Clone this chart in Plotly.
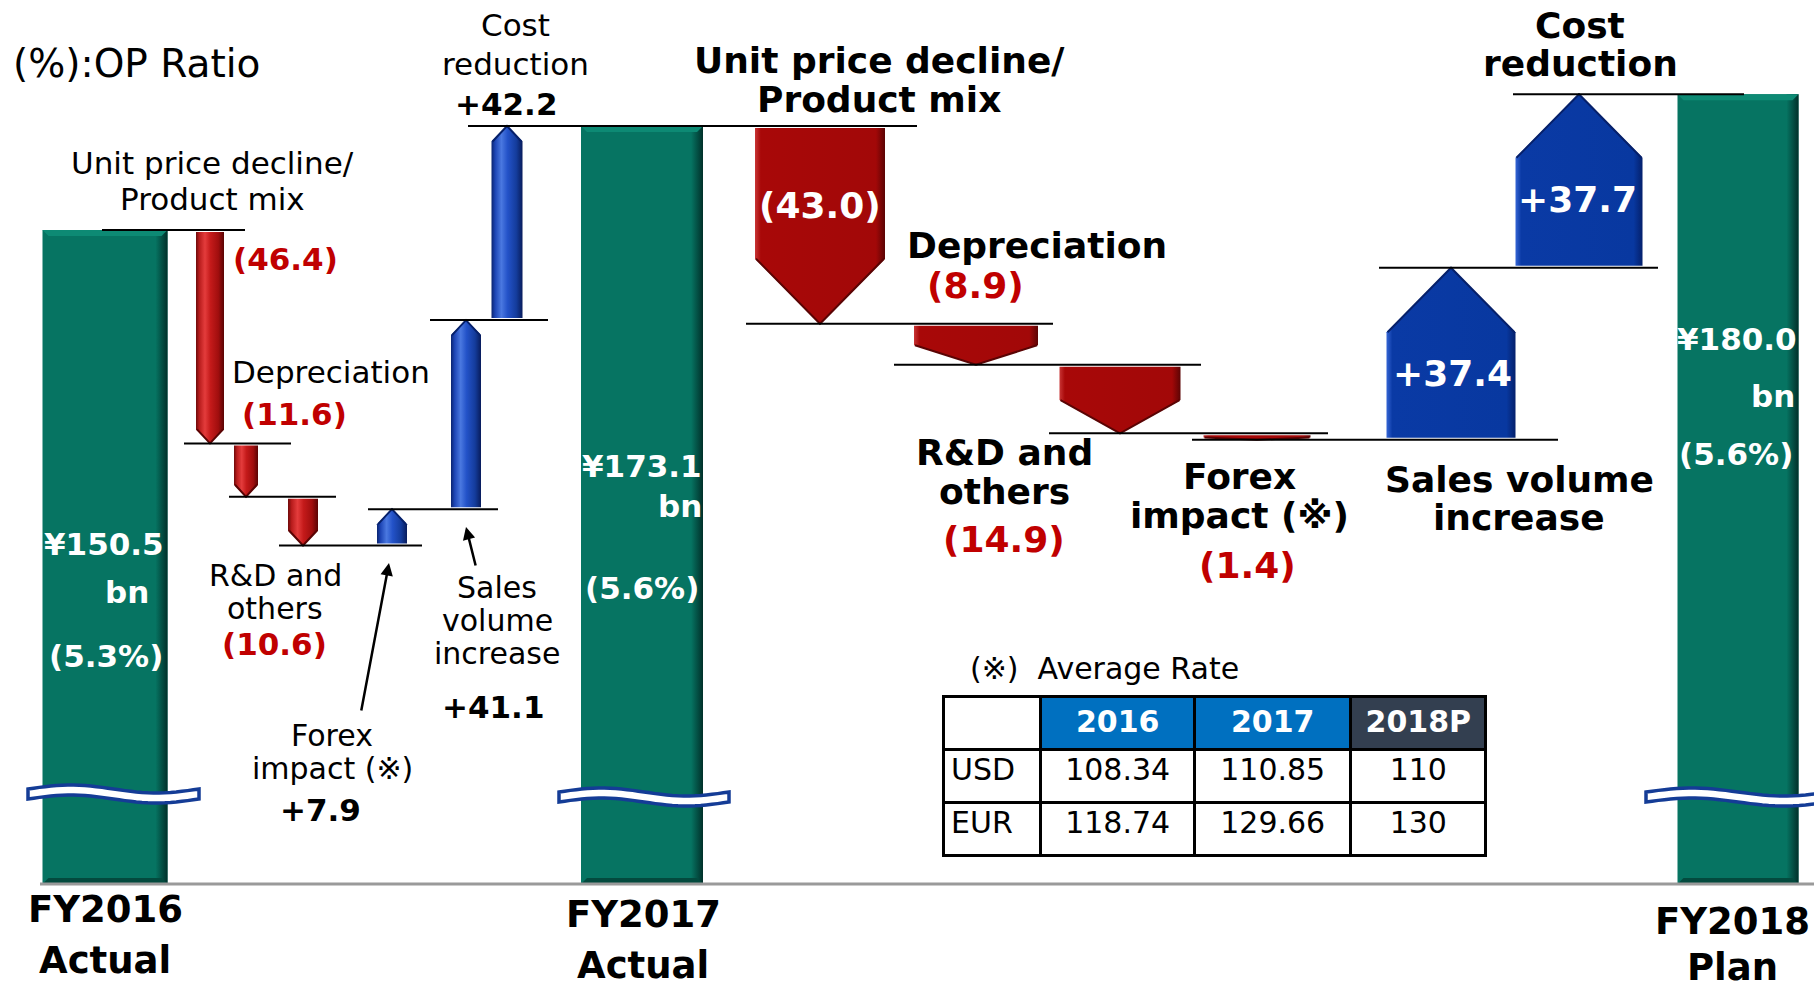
import math
import plotly.graph_objects as go

# ---------------- data ----------------
periods = ["FY2016<br>Actual", "FY2017<br>Actual", "FY2018<br>Plan"]
period_totals = [150.5, 173.1, 180.0]
op_ratios = [5.3, 5.6, 5.6]

steps_fy17 = ["Unit price decline/<br>Product mix", "Depreciation", "R&D and<br>others",
              "Forex<br>impact (※)", "Sales<br>volume<br>increase", "Cost<br>reduction"]
deltas_fy17 = [-46.4, -11.6, -10.6, 7.9, 41.1, 42.2]

steps_fy18 = ["Unit price decline/<br>Product mix", "Depreciation", "R&D and<br>others",
              "Forex<br>impact (※)", "Sales volume<br>increase", "Cost<br>reduction"]
deltas_fy18 = [-43.0, -8.9, -14.9, -1.4, 37.4, 37.7]

rate_title = "(※)  Average Rate"
rate_years = ["2016", "2017", "2018P"]
rate_currencies = ["USD", "EUR"]
rate_usd = ["108.34", "110.85", "110"]
rate_eur = ["118.74", "129.66", "130"]

# ---------------- layout / style constants ----------------
W, H = 1814, 988
PX = 4.6                      # pixels per ¥bn on the (broken) value axis
REF_VAL, REF_PX = 173.1, 126
Y_TOP = REF_VAL + REF_PX / PX
Y_BOT = REF_VAL - (H - REF_PX) / PX
BASE = REF_VAL - (884 - REF_PX) / PX   # value at which the broken bars end
FONT = "DejaVu Sans"

GREEN = "#067462"
RED_TXT = "#C00000"

TOTAL_X = [105, 642, 1738]
TOTAL_W = [125, 122, 121]
STEP_X = [[210, 246, 303, 392, 466, 507], [820, 976, 1120, 1257, 1451, 1579]]
STEP_W = [[28, 24, 30, 30, 30, 31], [130, 124, 121, 107, 129, 127]]
LINE_SPANS = [[(102, 245), (184, 291), (229, 336), (279, 422), (368, 498), (430, 548), (468, 917)],
              [(746, 1053), (894, 1201), (1049, 1328), (1192, 1558), (1379, 1658), (1513, 1744)]]
LABEL_POS = [
    [(212, [163, 199]), (331, [372]), (275, [575, 608]), (332, [735, 768]), (497, [587, 620, 653]), (515, [25, 64])],
    [(879, [61, 100]), (1037, [245]), (1004, [452, 491]), (1239, [477, 515]), (1519, [480, 517]), (1580, [25, 64])],
]
LABEL_SIZE = [[31, 31, 30, 30, 30, 31], [36, 36, 36, 36, 36, 36]]
VALUE_POS = [
    [(285, 259), (294, 414), (274, 644), (320, 810), (493, 707), (506, 104)],
    [(820, 205), (975, 285), (1004, 539), (1247, 565), (1452, 374), (1577, 199)],
]
VALUE_INSIDE = [[False] * 6, [True, False, False, False, True, True]]
TOTAL_TXT_POS = [[(104, 544), (127, 592), (106, 656)],
                 [(642, 466), (680, 506), (642, 588)],
                 [(1737, 339), (1773, 396), (1736, 454)]]
PERIOD_POS = [(105, [909, 960]), (643, [914, 965]), (1732, [921, 967])]
BREAKS = [(28, 199, 794), (559, 729, 797), (1646, 1830, 797)]

NARROW_RED = [[0, "#6e0a0a"], [0.12, "#b81c1c"], [0.32, "#e43c3c"], [0.52, "#c41a1a"], [0.8, "#a00e0e"], [1, "#5a0404"]]
NARROW_BLUE = [[0, "#0a2470"], [0.12, "#1d45b5"], [0.32, "#4a78e0"], [0.52, "#2352c8"], [0.8, "#143c9c"], [1, "#081c5c"]]
WIDE_RED = [[0, "#c83535"], [0.045, "#a80808"], [0.93, "#a20808"], [1, "#5c0404"]]
WIDE_BLUE = [[0, "#3565d5"], [0.045, "#0a3aa5"], [0.93, "#0838a0"], [1, "#04206c"]]


def py(v):
    return 1 - v / H


def cumulative(start, deltas):
    lv = [start]
    for d in deltas:
        lv.append(round(lv[-1] + d, 1))
    return lv


def fmt_delta(d):
    return f"({abs(d):.1f})" if d < 0 else f"+{d:.1f}"


lev1 = cumulative(period_totals[0], deltas_fy17)
lev2 = cumulative(period_totals[1], deltas_fy18)

fig = go.Figure()

# ---------------- total bars ----------------
fig.add_trace(go.Bar(x=TOTAL_X, y=[t - BASE for t in period_totals], base=BASE, width=TOTAL_W,
                     marker=dict(color=GREEN, line=dict(width=0)), hoverinfo="skip"))
for cx, w, t in zip(TOTAL_X, TOTAL_W, period_totals):
    xl, xr = cx - w / 2, cx + w / 2
    fig.add_trace(go.Scatter(x=[xr - 12, xr, xr, xr - 12, xr - 12], y=[BASE, BASE, t, t, BASE],
                             fill="toself", mode="lines", line=dict(width=0, color=GREEN),
                             fillgradient=dict(type="horizontal", colorscale=[[0, GREEN], [1, "#01302a"]]),
                             hoverinfo="skip"))
    b = 6 / PX
    fig.add_trace(go.Scatter(x=[xl, xr, xr - 6, xl + 6, xl], y=[t, t, t - b, t - b, t],
                             fill="toself", mode="lines", line=dict(width=0, color="#0d8a74"),
                             fillcolor="#0d8a74", hoverinfo="skip"))
    fig.add_trace(go.Scatter(x=[xl, xr, xr - 6, xl + 6, xl], y=[BASE, BASE, BASE + b, BASE + b, BASE],
                             fill="toself", mode="lines", line=dict(width=0, color="#034a3e"),
                             fillcolor="#034a3e", hoverinfo="skip"))


# ---------------- arrows ----------------
def add_arrow(xc, w, y0, y1, scale, edge):
    d = 1 if y1 > y0 else -1
    y0 = y0 + d * 2 / PX
    length_px = abs(y1 - y0) * PX
    tip = min(w / 2, 0.5 * length_px) / PX
    yb = y1 - d * tip
    xl, xr = xc - w / 2, xc + w / 2
    fig.add_trace(go.Scatter(x=[xl, xr, xr, xc, xl, xl], y=[y0, y0, yb, y1, yb, y0],
                             fill="toself", mode="lines", line=dict(width=0, color=edge),
                             fillgradient=dict(type="horizontal", colorscale=scale),
                             hoverinfo="skip"))
    fig.add_trace(go.Scatter(x=[xl + 1, xc, xr - 1], y=[yb, y1, yb], mode="lines",
                             line=dict(width=2, color=edge), hoverinfo="skip"))


for side, (levels, deltas) in enumerate([(lev1, deltas_fy17), (lev2, deltas_fy18)]):
    for i, dlt in enumerate(deltas):
        if side == 0:
            scale = NARROW_RED if dlt < 0 else NARROW_BLUE
        else:
            scale = WIDE_RED if dlt < 0 else WIDE_BLUE
        edge = "#5a0404" if dlt < 0 else "#06206a"
        add_arrow(STEP_X[side][i], STEP_W[side][i], levels[i], levels[i + 1], scale, edge)

# ---------------- connector lines ----------------
shapes = []
for (x0, x1), lv in zip(LINE_SPANS[0], lev1):
    shapes.append(dict(type="line", xref="x", yref="y", x0=x0, x1=x1, y0=lv, y1=lv,
                       line=dict(color="black", width=2)))
for (x0, x1), lv in zip(LINE_SPANS[1], lev2[1:]):
    shapes.append(dict(type="line", xref="x", yref="y", x0=x0, x1=x1, y0=lv, y1=lv,
                       line=dict(color="black", width=2)))

shapes.append(dict(type="line", xref="x", yref="y", x0=40, x1=W, y0=BASE, y1=BASE,
                   line=dict(color="#9a9a9a", width=3)))


def wave_path(x0, x1, yc_px, amp=4.0, half=5.0, n=30):
    top, bot = [], []
    for i in range(n + 1):
        t = i / n
        x = x0 + (x1 - x0) * t
        yc = yc_px - amp * math.sin(2 * math.pi * t)
        top.append((x, py(yc - half)))
        bot.append((x, py(yc + half)))
    pts = top + bot[::-1]
    return "M " + " L ".join(f"{x:.1f},{y:.5f}" for x, y in pts) + " Z"


for x0, x1, yc in BREAKS:
    shapes.append(dict(type="path", xref="x", yref="paper", path=wave_path(x0, x1, yc),
                       fillcolor="white", line=dict(color="#143c96", width=3.5)))


# ---------------- text ----------------
def label(x, ypx, text, size, color="black", bold=False, xanchor="center"):
    fig.add_annotation(x=x, y=py(ypx), xref="x", yref="paper",
                       text=f"<b>{text}</b>" if bold else text, showarrow=False,
                       font=dict(family=FONT, size=size, color=color),
                       xanchor=xanchor, yanchor="middle", borderpad=0)


label(12, 64, "(%):OP Ratio", 39, xanchor="left")

for side, (names, deltas) in enumerate([(steps_fy17, deltas_fy17), (steps_fy18, deltas_fy18)]):
    for i, (nm, dlt) in enumerate(zip(names, deltas)):
        cx, ys = LABEL_POS[side][i]
        for line_txt, ypx in zip(nm.split("<br>"), ys):
            label(cx, ypx, line_txt, LABEL_SIZE[side][i], bold=(side == 1))
        vx, vy = VALUE_POS[side][i]
        if VALUE_INSIDE[side][i]:
            col = "white"
        else:
            col = RED_TXT if dlt < 0 else "black"
        label(vx, vy, fmt_delta(dlt), 31 if side == 0 else 36, color=col, bold=True)

for k, (tot, ratio) in enumerate(zip(period_totals, op_ratios)):
    texts = [f"¥{tot:.1f}", "bn", f"({ratio:.1f}%)"]
    for txt, (tx, ty) in zip(texts, TOTAL_TXT_POS[k]):
        label(tx, ty, txt, 31, color="white", bold=True)
    cx, ys = PERIOD_POS[k]
    for line_txt, ypx in zip(periods[k].split("<br>"), ys):
        label(cx, ypx, line_txt, 37, bold=True)

fig.add_annotation(x=389, y=py(563), xref="x", yref="paper", ax=-28, ay=149,
                   showarrow=True, arrowhead=2, arrowsize=1, arrowwidth=2.5, arrowcolor="black", text="")
fig.add_annotation(x=466, y=py(527), xref="x", yref="paper", ax=10, ay=40,
                   showarrow=True, arrowhead=2, arrowsize=1, arrowwidth=2.5, arrowcolor="black", text="")

# ---------------- FX table ----------------
label(969, 668, rate_title, 30, xanchor="left")
fig.add_trace(go.Table(
    domain=dict(x=[943 / W, 1486 / W], y=[py(860), py(696)]),
    columnwidth=[97, 154, 155, 135],
    header=dict(values=[""] + [f"<b>{y}</b>" for y in rate_years],
                fill_color=["white", "#0070C0", "#0070C0", "#333F50"],
                font=dict(family=FONT, size=30, color="white"),
                line=dict(color="black", width=3), align="center", height=53),
    cells=dict(values=[rate_currencies] + [[u, e] for u, e in zip(rate_usd, rate_eur)],
               fill_color="white", font=dict(family=FONT, size=30, color="black"),
               line=dict(color="black", width=3), align=["left", "center", "center", "center"],
               height=53),
))

fig.update_layout(
    width=W, height=H, margin=dict(l=0, r=0, t=0, b=0),
    paper_bgcolor="white", plot_bgcolor="white", showlegend=False,
    barmode="overlay", shapes=shapes,
    xaxis=dict(range=[0, W], visible=False, fixedrange=True),
    yaxis=dict(range=[Y_BOT, Y_TOP], visible=False, fixedrange=True),
)

fig.write_html("out.html", config={"displayModeBar": False},
               post_script="document.body.style.margin='0';document.body.style.overflow='hidden';")
